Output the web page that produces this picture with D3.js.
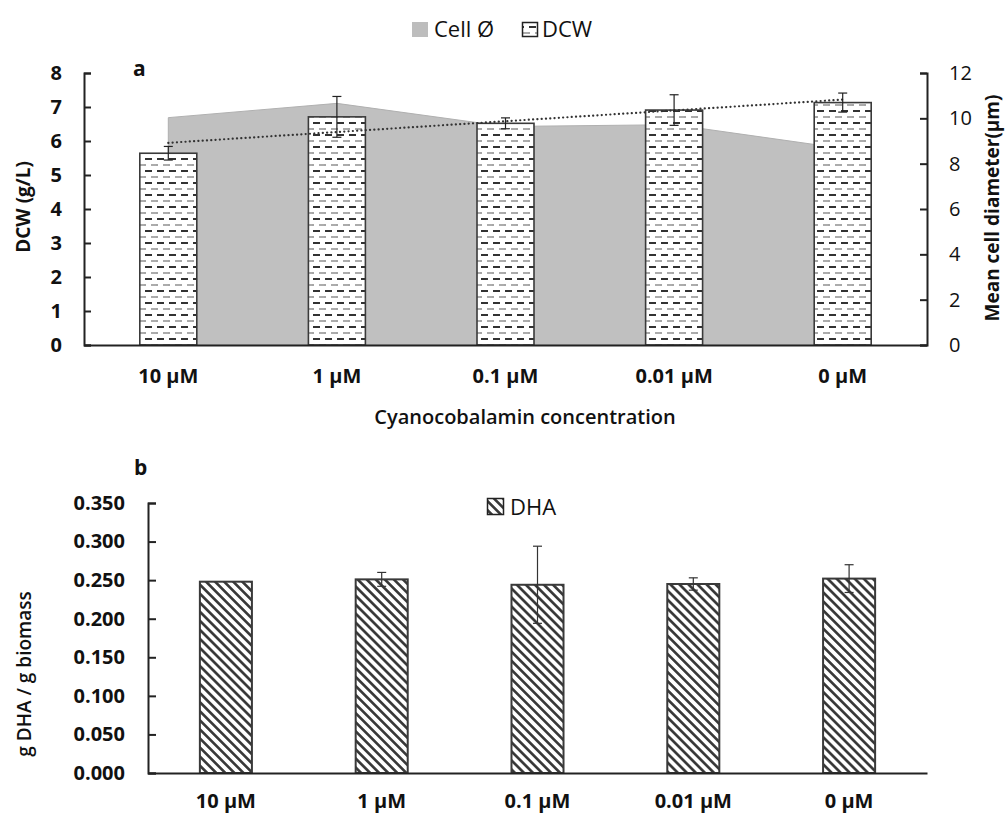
<!DOCTYPE html>
<html>
<head>
<meta charset="utf-8">
<script src="https://cdn.jsdelivr.net/npm/d3@7"></script>
<style>
  html, body { margin: 0; padding: 0; background: #fff; }
  svg { display: block; font-family: "Open Sans", "DejaVu Sans", sans-serif; }
</style>
</head>
<body>
<svg id="chart" width="1006" height="814"></svg>
<script>
// Cyanocobalamin treatments
const categories = ["10 µM", "1 µM", "0.1 µM", "0.01 µM", "0 µM"];

// Panel a: dry cell weight (g/L) with SD, and mean cell diameter (µm)
const dcw = [5.64, 6.71, 6.52, 6.91, 7.13];
const dcwErr = [0.20, 0.60, 0.16, 0.45, 0.28];
const cellDiameter = [10.03, 10.66, 9.64, 9.72, 8.67];
const dcwTicks = [0, 1, 2, 3, 4, 5, 6, 7, 8];
const diameterTicks = [0, 2, 4, 6, 8, 10, 12];

// Panel b: DHA content (g DHA / g biomass) with SD
const dha = [0.248, 0.251, 0.244, 0.245, 0.252];
const dhaErr = [0.000, 0.009, 0.050, 0.008, 0.018];
const dhaTicks = [0, 0.05, 0.10, 0.15, 0.20, 0.25, 0.30, 0.35];

const svg = d3.select("#chart");
const ink = "#3a3a3a";

// ---------- patterns ----------
const defs = svg.append("defs");
const dash = defs.append("pattern")
  .attr("id", "dashFill").attr("patternUnits", "userSpaceOnUse")
  .attr("width", 12).attr("height", 12);
dash.append("rect").attr("width", 12).attr("height", 12).attr("fill", "#fff");
dash.append("line").attr("x1", 1).attr("x2", 8).attr("y1", 3).attr("y2", 3)
  .attr("stroke", "#333").attr("stroke-width", 2);
dash.append("line").attr("x1", 7).attr("x2", 12).attr("y1", 9).attr("y2", 9)
  .attr("stroke", "#888").attr("stroke-width", 1.4);
dash.append("line").attr("x1", 0).attr("x2", 2).attr("y1", 9).attr("y2", 9)
  .attr("stroke", "#888").attr("stroke-width", 1.4);

const hatch = defs.append("pattern")
  .attr("id", "hatchFill").attr("patternUnits", "userSpaceOnUse")
  .attr("width", 6.4).attr("height", 6.4)
  .attr("patternTransform", "rotate(45)");
hatch.append("rect").attr("width", 6.4).attr("height", 6.4).attr("fill", "#fff");
hatch.append("line").attr("x1", 0).attr("x2", 6.4).attr("y1", 3.2).attr("y2", 3.2)
  .attr("stroke", "#333").attr("stroke-width", 2.6);

// ---------- panel a ----------
const xa = d3.scaleBand().domain(categories).range([84, 927])
  .paddingInner(0.662).paddingOuter(0.331);
const yL = d3.scaleLinear().domain([0, 8]).range([345, 73]);
const yR = d3.scaleLinear().domain([0, 12]).range([345, 73]);
const ca = c => xa(c) + xa.bandwidth() / 2;

const ga = svg.append("g");

// mean cell diameter as a filled area on the secondary axis
ga.append("path")
  .datum(categories.map((c, i) => ({ c, v: cellDiameter[i] })))
  .attr("d", d3.area().x(d => ca(d.c)).y0(yR(0)).y1(d => yR(d.v)))
  .attr("fill", "#c0c0c0").attr("stroke", "#b0b0b0").attr("stroke-width", 1);

// DCW bars
ga.selectAll("rect.dcw").data(categories).join("rect")
  .attr("class", "dcw")
  .attr("x", c => xa(c)).attr("width", xa.bandwidth())
  .attr("y", (c, i) => yL(dcw[i])).attr("height", (c, i) => yL(0) - yL(dcw[i]))
  .attr("fill", "url(#dashFill)").attr("stroke", ink).attr("stroke-width", 1.6);

// linear trend of DCW
const n = dcw.length;
const xs = d3.range(1, n + 1);
const mx = d3.mean(xs), my = d3.mean(dcw);
const slope = d3.sum(xs.map((x, i) => (x - mx) * (dcw[i] - my))) / d3.sum(xs.map(x => (x - mx) ** 2));
const icpt = my - slope * mx;
ga.append("line")
  .attr("x1", ca(categories[0])).attr("y1", yL(icpt + slope * 1))
  .attr("x2", ca(categories[n - 1])).attr("y2", yL(icpt + slope * n))
  .attr("stroke", "#333").attr("stroke-width", 2.2)
  .attr("stroke-dasharray", "0.1 4.2").attr("stroke-linecap", "round");

// DCW error bars
const errA = ga.selectAll("g.err").data(categories).join("g").attr("class", "err");
errA.append("line")
  .attr("x1", ca).attr("x2", ca)
  .attr("y1", (c, i) => yL(dcw[i] + dcwErr[i])).attr("y2", (c, i) => yL(dcw[i] - dcwErr[i]))
  .attr("stroke", "#222").attr("stroke-width", 1.2);
[1, -1].forEach(s => errA.append("line")
  .attr("x1", c => ca(c) - 4.5).attr("x2", c => ca(c) + 4.5)
  .attr("y1", (c, i) => yL(dcw[i] + s * dcwErr[i])).attr("y2", (c, i) => yL(dcw[i] + s * dcwErr[i]))
  .attr("stroke", "#222").attr("stroke-width", 1.2));

// axes of panel a
const axL = ga.append("g").attr("transform", "translate(84,0)")
  .call(d3.axisRight(yL).tickValues(dcwTicks).tickSize(7).tickFormat(d3.format("d")));
axL.selectAll("text").attr("x", -22).attr("text-anchor", "end")
  .attr("font-size", 20).attr("font-weight", 700).attr("fill", "#111");
const axR = ga.append("g").attr("transform", "translate(927,0)")
  .call(d3.axisLeft(yR).tickValues(diameterTicks).tickSize(7).tickFormat(d3.format("d")));
axR.selectAll("text").attr("x", 22).attr("text-anchor", "start")
  .attr("font-size", 20).attr("font-weight", 400).attr("fill", "#111");
const axXa = ga.append("g").attr("transform", "translate(0,345)")
  .call(d3.axisBottom(xa).tickSize(0));
axXa.selectAll("text").attr("y", 0).attr("dy", null)
  .attr("transform", "translate(0,38)")
  .attr("font-size", 20).attr("font-weight", 700).attr("fill", "#111");
[axL, axR, axXa].forEach(a => {
  a.select(".domain").attr("stroke", "#222").attr("stroke-width", 2);
  a.selectAll(".tick line").attr("stroke", "#222").attr("stroke-width", 2);
  a.attr("font-family", null);
});

ga.append("text").attr("x", 133).attr("y", 76).text("a")
  .attr("font-size", 21).attr("font-weight", 700).attr("fill", "#111");
ga.append("text").attr("transform", "translate(30,207) rotate(-90)")
  .attr("text-anchor", "middle").text("DCW (g/L)")
  .attr("font-size", 19).attr("font-weight", 700).attr("fill", "#111");
ga.append("text").attr("transform", "translate(999,208) rotate(-90)")
  .attr("text-anchor", "middle").text("Mean cell diameter(µm)")
  .attr("font-size", 19).attr("font-weight", 700).attr("fill", "#111");
ga.append("text").attr("x", 525).attr("y", 424).attr("text-anchor", "middle")
  .text("Cyanocobalamin concentration")
  .attr("font-size", 20).attr("font-weight", 600).attr("fill", "#111");

// legend of panel a
const lg = ga.append("g");
lg.append("rect").attr("x", 412).attr("y", 22).attr("width", 16).attr("height", 15)
  .attr("fill", "#bdbdbd");
lg.append("text").attr("x", 434).attr("y", 37).text("Cell Ø")
  .attr("font-size", 22).attr("fill", "#111");
lg.append("rect").attr("x", 522.5).attr("y", 22.5).attr("width", 15).attr("height", 14)
  .attr("fill", "url(#dashFill)").attr("stroke", "#222").attr("stroke-width", 1.5);
lg.append("text").attr("x", 542).attr("y", 37).text("DCW")
  .attr("font-size", 22).attr("fill", "#111");

// ---------- panel b ----------
const xb = d3.scaleBand().domain(categories).range([148, 927])
  .paddingInner(0.666).paddingOuter(0.333);
const yb = d3.scaleLinear().domain([0, 0.35]).range([773, 503]);
const cb = c => xb(c) + xb.bandwidth() / 2;

const gb = svg.append("g");
gb.selectAll("rect.dha").data(categories).join("rect")
  .attr("class", "dha")
  .attr("x", c => xb(c)).attr("width", xb.bandwidth())
  .attr("y", (c, i) => yb(dha[i])).attr("height", (c, i) => yb(0) - yb(dha[i]))
  .attr("fill", "url(#hatchFill)").attr("stroke", ink).attr("stroke-width", 2);

const errB = gb.selectAll("g.err").data(categories.filter((c, i) => dhaErr[i] > 0)).join("g").attr("class", "err");
const bi = c => categories.indexOf(c);
errB.append("line")
  .attr("x1", cb).attr("x2", cb)
  .attr("y1", c => yb(dha[bi(c)] + dhaErr[bi(c)])).attr("y2", c => yb(dha[bi(c)] - dhaErr[bi(c)]))
  .attr("stroke", "#333").attr("stroke-width", 1.2);
[1, -1].forEach(s => errB.append("line")
  .attr("x1", c => cb(c) - 4.5).attr("x2", c => cb(c) + 4.5)
  .attr("y1", c => yb(dha[bi(c)] + s * dhaErr[bi(c)])).attr("y2", c => yb(dha[bi(c)] + s * dhaErr[bi(c)]))
  .attr("stroke", "#333").attr("stroke-width", 1.2));

const axB = gb.append("g").attr("transform", "translate(148,0)")
  .call(d3.axisRight(yb).tickValues(dhaTicks).tickSize(8).tickFormat(d3.format(".3f")));
axB.selectAll("text").attr("x", -23).attr("text-anchor", "end")
  .attr("font-size", 20).attr("font-weight", 700).attr("fill", "#111");
const axXb = gb.append("g").attr("transform", "translate(0,773)")
  .call(d3.axisBottom(xb).tickSize(0));
axXb.selectAll("text").attr("y", 0).attr("dy", null)
  .attr("transform", "translate(0,35)")
  .attr("font-size", 20).attr("font-weight", 700).attr("fill", "#111");
[axB, axXb].forEach(a => {
  a.select(".domain").attr("stroke", "#222").attr("stroke-width", 2);
  a.selectAll(".tick line").attr("stroke", "#222").attr("stroke-width", 2);
  a.attr("font-family", null);
});

gb.append("text").attr("x", 134).attr("y", 475).text("b")
  .attr("font-size", 21).attr("font-weight", 700).attr("fill", "#111");
gb.append("text").attr("transform", "translate(31,674) rotate(-90)")
  .attr("text-anchor", "middle").text("g DHA / g biomass")
  .attr("font-size", 19).attr("font-weight", 600).attr("fill", "#111");

// legend of panel b
gb.append("rect").attr("x", 487.5).attr("y", 498.5).attr("width", 16).attr("height", 16)
  .attr("fill", "url(#hatchFill)").attr("stroke", "#222").attr("stroke-width", 1.5);
gb.append("text").attr("x", 510).attr("y", 515).text("DHA")
  .attr("font-size", 22).attr("fill", "#111");
</script>
</body>
</html>
